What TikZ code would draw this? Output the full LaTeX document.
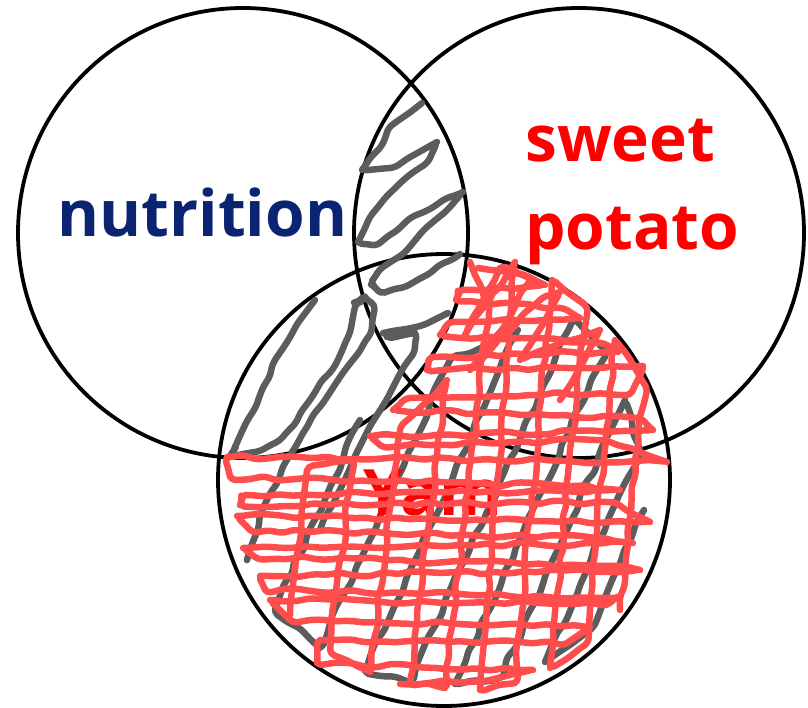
\documentclass[tikz,border=0pt]{standalone}
\usepackage{fontspec}
\setmainfont{Open Sans}
\usetikzlibrary{decorations.pathmorphing}
\definecolor{nutblue}{RGB}{11,36,113}
\definecolor{scribred}{RGB}{255,77,77}
\definecolor{scribgray}{RGB}{92,92,92}
\definecolor{txtred}{RGB}{255,0,0}
\tikzset{
  vcirc/.style={circle, draw=black, line width=3.8pt, minimum size=#1, inner sep=0pt},
  lbl/.style={font=\fontsize{64}{88}\selectfont\bfseries, inner sep=0pt},
  scrib/.style={line width=6.5pt, line join=round, line cap=round,
    decorate, decoration={random steps, segment length=14pt, amplitude=2.4pt},
    rounded corners=5pt},
  grayscrib/.style={scrib, draw=scribgray},
  redscrib/.style={scrib, draw=scribred}
}
\begin{document}
\begin{tikzpicture}[x=1pt,y=-1pt]
\pgfmathsetseed{7}
\useasboundingbox (0,0) rectangle (808,708);
% circles
\node[vcirc=450pt] (cnut) at (243,233) {};
\node[vcirc=450pt] (csp) at (579,233) {};
\node[vcirc=452pt] (cyam) at (444,480) {};
% labels
\node[lbl, text=nutblue, anchor=base] (tnut) at (202.5,237) {nutrition};
\node[lbl, text=txtred, anchor=base west, align=left] (tsp) at (525,250) {sweet\\potato};
% gray hatching
\draw[grayscrib] (422,103) -- (392,125) -- (383,143) -- (362,170) -- (390,168) -- (412,156)
  -- (437,142) -- (430,158) -- (407,177) -- (390,193) -- (373,213) -- (358,242) -- (372,245)
  -- (393,233) -- (408,220) -- (428,210) -- (463,192) -- (450,207) -- (427,227) -- (407,250)
  -- (383,267) -- (372,281) -- (378,291) -- (400,288) -- (425,276) -- (460,254);
\draw[grayscrib] (448,313) -- (428,323) -- (388,332) -- (387,337) -- (415,333) -- (415,347)
  -- (402,370) -- (388,397) -- (372,423) -- (358,450) -- (335,500) -- (320,530);
\draw[grayscrib] (315,300) -- (300,320) -- (275,360) -- (262,390) -- (245,425) -- (235,447)
  -- (232,455) -- (255,452) -- (275,443) -- (292,427) -- (312,397) -- (332,370) -- (348,337)
  -- (355,307) -- (362,298) -- (372,303) -- (372,327) -- (362,347) -- (345,370) -- (325,400)
  -- (305,430) -- (285,463) -- (262,510) -- (250,550) -- (255,560);
\draw[grayscrib] (360,420) -- (275,609) -- (320,648) -- (450,360) -- (518,330) -- (365,671)
  -- (410,682) -- (573,320) -- (605,350) -- (455,684) -- (500,678) -- (625,400) -- (640,450)
  -- (545,662) -- (590,630) -- (644,510);
% yam label
\node[lbl, text=txtred, anchor=base] (tyam) at (433,515) {Yam};
% red scribble
\draw[redscrib] (478,268) -- (520,274) -- (545,285) -- (462,290) -- (456,300) -- (560,308)
  -- (580,318) -- (452,322) -- (440,335) -- (600,343) -- (618,352) -- (432,357) -- (427,370)
  -- (643,366) -- (632,392) -- (410,398) -- (393,410) -- (637,418) -- (653,430) -- (370,436)
  -- (380,445) -- (600,440) -- (667,462) -- (227,457) -- (230,477) -- (567,486) -- (620,490)
  -- (245,495) -- (240,505) -- (610,502) -- (650,522) -- (237,516) -- (250,530) -- (600,538)
  -- (633,543) -- (243,548) -- (255,557) -- (620,566) -- (640,570) -- (260,576) -- (265,590)
  -- (615,598) -- (610,603) -- (270,600) -- (290,620) -- (590,627) -- (567,643) -- (320,640)
  -- (317,663) -- (533,670) -- (490,680) -- (400,684);
\draw[redscrib] (290,615) -- (307,470) -- (353,460) -- (330,650) -- (370,672) -- (400,430)
  -- (447,380) -- (410,683) -- (445,688) -- (490,300) -- (515,262) -- (480,690) -- (515,683)
  -- (552,280) -- (585,305) -- (550,668) -- (585,645) -- (615,340) -- (645,385) -- (620,610);
\draw[redscrib] (470,262) -- (485,300) -- (465,335) -- (500,268) -- (530,278) -- (505,325)
  -- (470,370) -- (540,300) -- (560,292) -- (520,360) -- (600,330) -- (560,400);
\end{tikzpicture}
\end{document}
